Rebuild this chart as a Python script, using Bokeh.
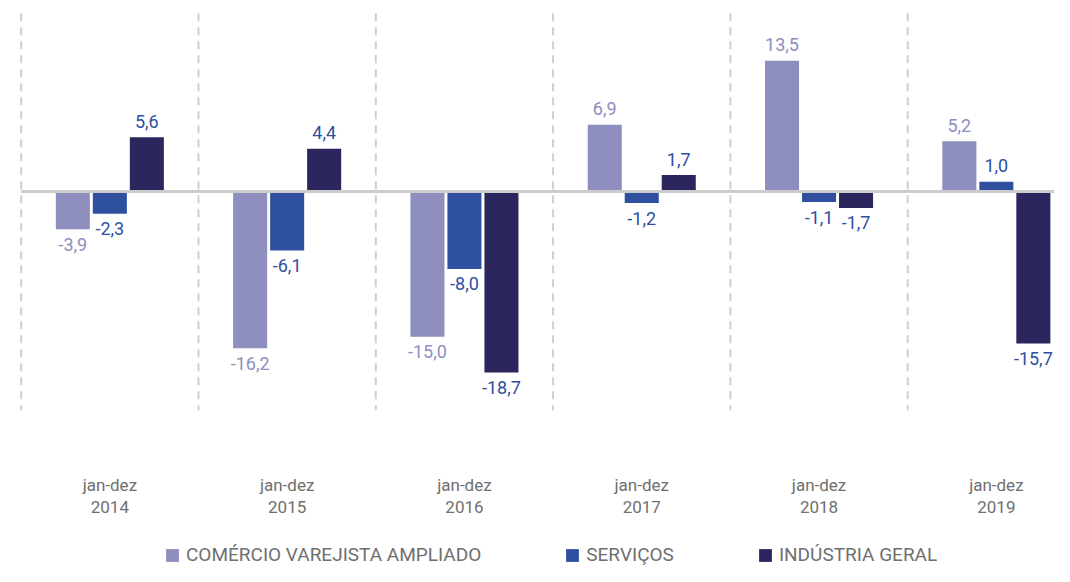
from bokeh.plotting import figure
from bokeh.models import (ColumnDataSource, Range1d, FixedTicker, Legend, LegendItem)
from bokeh.core.properties import value
from bokeh.embed import file_html
from bokeh.resources import INLINE

# ---- data ----
periods = ["jan-dez", "jan-dez", "jan-dez", "jan-dez", "jan-dez", "jan-dez"]
years = ["2014", "2015", "2016", "2017", "2018", "2019"]
series_names = ["COMÉRCIO VAREJISTA AMPLIADO", "SERVIÇOS", "INDÚSTRIA GERAL"]
comercio = [-3.9, -16.2, -15.0, 6.9, 13.5, 5.2]
servicos = [-2.3, -6.1, -8.0, -1.2, -1.1, 1.0]
industria = [5.6, 4.4, -18.7, 1.7, -1.7, -15.7]

bar_colors = ["#8e8ebf", "#2e509f", "#2b265e"]
label_colors = ["#8e8ebf", "#2f50a0", "#2f50a0"]
FONT = "Roboto"

p = figure(width=1054, height=566, output_backend="svg", toolbar_location=None,
           x_range=Range1d(-0.5265, 5.328), y_range=Range1d(-38.74, 18.9),
           min_border_left=16, min_border_right=0, min_border_top=8,
           min_border_bottom=0)
p.outline_line_color = None
p.xgrid.visible = False
p.ygrid.visible = False
p.yaxis.visible = False
p.background_fill_color = "white"
p.border_fill_color = "white"

n = len(years)
idx = list(range(n))

# dashed separators between groups
sep_x = [i - 0.5 for i in range(n)]
p.segment(x0=sep_x, x1=sep_x, y0=[18.4] * n, y1=[-22.6] * n,
          line_color="#cfcfcf", line_width=2, line_dash="8 6")

offsets = [-0.2087, 0.0, 0.2087]
width = 0.192
renderers = []
for s, (vals, bc, lc) in enumerate(zip([comercio, servicos, industria], bar_colors, label_colors)):
    xs = [i + offsets[s] for i in idx]
    src = ColumnDataSource(dict(
        x=xs, top=vals,
        label=[f"{v:.1f}".replace(".", ",") for v in vals],
        yoff=[-16 if v >= 0 else 15 for v in vals],
    ))
    r = p.vbar(x="x", top="top", bottom=0, width=width, source=src,
               fill_color=bc, line_color=None)
    renderers.append(r)
    p.text(x="x", y="top", text="label", source=src, y_offset="yoff",
           text_align="center", text_baseline="alphabetic",
           text_font=value(FONT), text_font_size="18px", text_color=lc)

# zero line
p.segment(x0=[-0.5], x1=[5.6], y0=[0], y1=[0], line_color="#cccccc", line_width=3)

# x axis, drawn inside the plot area below the bars
ax = p.xaxis[0]
ax.fixed_location = -23.66
ax.ticker = FixedTicker(ticks=idx)
ax.major_label_overrides = {i: f"{periods[i]}\n{years[i]}" for i in idx}
ax.axis_line_color = None
ax.major_tick_line_color = None
ax.minor_tick_line_color = None
ax.major_label_standoff = 48
ax.major_label_text_font = FONT
ax.major_label_text_font_size = "17px"
ax.major_label_text_color = "#6f6f6f"
ax.major_label_text_line_height = 1.1

legend = Legend(items=[LegendItem(label=series_names[i], renderers=[renderers[i]]) for i in range(3)],
                orientation="horizontal", location=(148, 0),
                spacing=83, glyph_width=16, glyph_height=16, label_standoff=6,
                padding=0, margin=0, border_line_color=None,
                background_fill_alpha=0,
                label_text_font=FONT, label_text_font_size="19px",
                label_text_color="#6f6f6f")
p.add_layout(legend, "center")

open("out.html", "w").write(file_html(p, INLINE))
